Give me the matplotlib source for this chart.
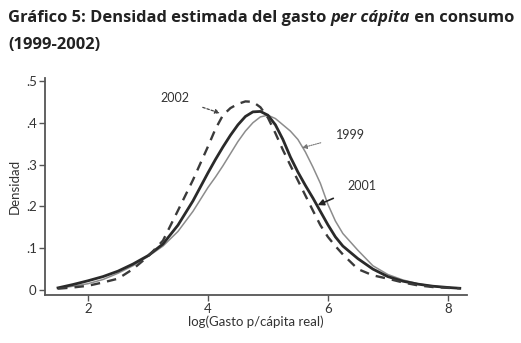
import numpy as np
import matplotlib.pyplot as plt

# log gasto per capita grid and estimated densities
x = [1.5, 1.75, 2.0, 2.25, 2.5, 2.75, 3.0, 3.25, 3.5, 3.75,
     4.0, 4.125, 4.25, 4.375, 4.5, 4.625, 4.75, 4.875, 5.0, 5.125,
     5.25, 5.375, 5.5, 5.625, 5.75, 5.875, 6.0, 6.125, 6.25,
     6.5, 6.75, 7.0, 7.25, 7.5, 7.75, 8.0, 8.2]
d1999 = [0.004, 0.009, 0.015, 0.025, 0.040, 0.058, 0.080, 0.105, 0.140, 0.188,
         0.245, 0.270, 0.297, 0.326, 0.355, 0.380, 0.400, 0.414, 0.418, 0.410,
         0.395, 0.380, 0.360, 0.330, 0.294, 0.255, 0.205, 0.165, 0.135,
         0.095, 0.058, 0.037, 0.024, 0.015, 0.009, 0.006, 0.004]
d2001 = [0.005, 0.013, 0.022, 0.032, 0.045, 0.062, 0.082, 0.110, 0.155, 0.213,
         0.280, 0.312, 0.342, 0.370, 0.395, 0.415, 0.426, 0.427, 0.418, 0.395,
         0.360, 0.318, 0.282, 0.250, 0.220, 0.188, 0.156, 0.127, 0.105,
         0.075, 0.050, 0.032, 0.021, 0.014, 0.009, 0.006, 0.004]
d2002 = [0.003, 0.006, 0.010, 0.018, 0.027, 0.050, 0.080, 0.118, 0.190, 0.263,
         0.343, 0.385, 0.418, 0.435, 0.445, 0.451, 0.450, 0.437, 0.412, 0.375,
         0.335, 0.298, 0.262, 0.226, 0.190, 0.155, 0.127, 0.105, 0.085,
         0.050, 0.035, 0.027, 0.018, 0.011, 0.007, 0.005, 0.004]

xticks = [2, 4, 6, 8]
yticks = [0, 0.1, 0.2, 0.3, 0.4, 0.5]
ylabels = ["0", ".1", ".2", ".3", ".4", ".5"]

plt.rcParams["font.family"] = ["Lato", "DejaVu Sans"]

fig = plt.figure(figsize=(5.21, 3.43), dpi=100)
ax = fig.add_axes([0.0864, 0.14, 0.8096, 0.6326])

ax.plot(x, d1999, color="#8c8c8c", lw=1.1)
ax.plot(x, d2001, color="#2a2a2a", lw=2.0)
ax.plot(x, d2002, color="#3a3a3a", lw=1.7, dashes=(4, 3))

ax.set_xlim(1.283, 8.317)
ax.set_ylim(-0.012, 0.507)
ax.set_xticks(xticks)
ax.set_yticks(yticks)
ax.set_yticklabels(ylabels)
ax.set_xlabel("log(Gasto p/cápita real)", fontsize=9.5, color="#333", labelpad=0)
ax.set_ylabel("Densidad", fontsize=9.5, color="#333", labelpad=4)

for s in ["top", "right"]:
    ax.spines[s].set_visible(False)
for s in ["left", "bottom"]:
    ax.spines[s].set_color("#555")
    ax.spines[s].set_linewidth(1.3)
ax.tick_params(direction="out", length=4, width=1, colors="#555",
               labelcolor="#333", labelsize=9.5, pad=2)

# curve labels
ax.annotate("2002", xy=(4.2, 0.423), xytext=(3.45, 0.459), fontsize=9,
            color="#333", ha="center", va="center",
            arrowprops=dict(arrowstyle="-|>", color="#444", lw=0.9,
                            ls=(0, (2, 1.5)), mutation_scale=7,
                            shrinkA=8, shrinkB=0))
ax.annotate("1999", xy=(5.57, 0.34), xytext=(6.37, 0.371), fontsize=9,
            color="#333", ha="center", va="center",
            arrowprops=dict(arrowstyle="-|>", color="#777", lw=0.8,
                            ls=(0, (1, 1)), mutation_scale=7,
                            shrinkA=9, shrinkB=0))
ax.annotate("2001", xy=(5.83, 0.203), xytext=(6.57, 0.249), fontsize=9,
            color="#333", ha="center", va="center",
            arrowprops=dict(arrowstyle="-|>", color="#222", lw=1.2,
                            mutation_scale=9, shrinkA=9, shrinkB=0))

# title with italic piece, sized to span the same width as the original
fig.canvas.draw()
r = fig.canvas.get_renderer()
tfont = ["Open Sans", "DejaVu Sans"]
parts = [("Gráfico 5: Densidad estimada del gasto ", "normal"),
         ("per cápita", "italic"),
         (" en consumo", "normal")]
fs = 11.0
width = 0
for txt, st in parts:
    t = fig.text(0, 0, txt, fontsize=fs, fontweight="bold", style=st, family=tfont)
    width += t.get_window_extent(r).width
    t.remove()
fs = fs * 505 / width

xpos = 8
for txt, st in parts:
    t = fig.text(xpos / 521, 1 - 18 / 343, txt, fontsize=fs, fontweight="bold",
                 style=st, color="#222", va="center", ha="left", family=tfont)
    xpos += t.get_window_extent(r).width
fig.text(8 / 521, 1 - 45 / 343, "(1999-2002)", fontsize=fs, fontweight="bold",
         color="#222", va="center", ha="left", family=tfont)

fig.savefig("out.png", dpi=100)
